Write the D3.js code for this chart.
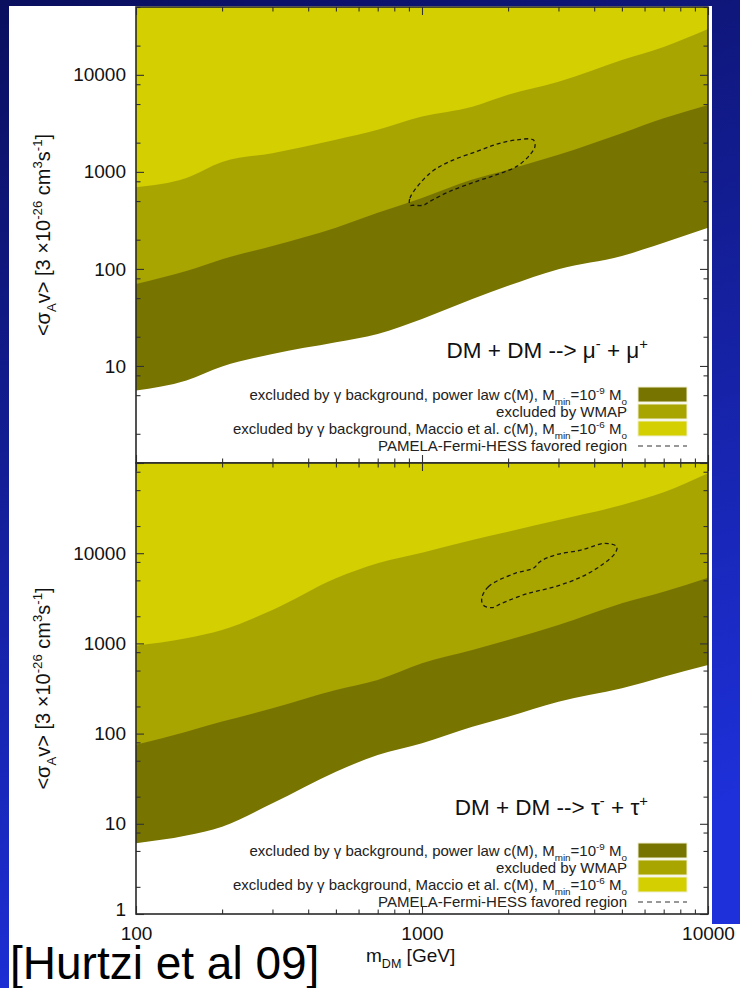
<!DOCTYPE html>
<html>
<head>
<meta charset="utf-8">
<script src="https://cdn.jsdelivr.net/npm/d3@7"></script>
<style>
  body { margin: 0; background: #fff; }
  svg { display: block; }
  text { font-family: "Liberation Sans", Arial, Helvetica, sans-serif; }
</style>
</head>
<body>
<svg id="chart" width="740" height="988"></svg>
<script>
// ---- data -----------------------------------------------------------
// dark matter mass grid [GeV]
const massGrid = [100, 150, 200, 300, 500, 700, 1000, 1500, 2000, 3000, 5000, 7000, 10000];

// DM + DM -> mu- + mu+ : exclusion limits on <sigma_A v> [3e-26 cm^3/s]
const muPowerLaw = [5.6, 7.1, 9.9, 13.3, 17.5, 21.4, 30.5, 48.9, 66.9, 99.3, 136, 186, 265];
const muWmap     = [70, 95, 126, 172, 265, 378, 538, 832, 1054, 1500, 2500, 3560, 4890];
const muMaccio   = [693, 864, 1261, 1560, 2138, 2709, 3710, 4697, 6237, 8476, 14250, 19370, 29630];
const muFavoredMass  = [908, 908, 1067, 1253, 1553, 1825, 2143, 2449, 2483, 2386, 2143, 1825, 1553, 1253, 1067, 1010, 932];
const muFavoredSigma = [453, 539, 972, 1282, 1624, 1928, 2138, 2138, 1828, 1501, 1138, 936, 799, 631, 498, 453, 453];

// DM + DM -> tau- + tau+
const tauPowerLaw = [6.1, 7.4, 9.3, 16.9, 37.8, 57.9, 78.1, 119, 154, 226, 318, 427, 576];
const tauWmap     = [75, 105, 136, 191, 304, 393, 601, 845, 1091, 1600, 2785, 3744, 5350];
const tauMaccio   = [943, 1140, 1409, 2345, 5268, 7730, 10140, 14000, 17300, 23330, 34220, 47330, 76900];
const tauFavoredMass  = [1618, 1706, 2115, 2449, 2585, 2917, 3616, 4363, 4797, 4730, 4250, 3616, 2917, 2355, 1901, 1754, 1637];
const tauFavoredSigma = [3162, 4253, 5985, 6800, 8050, 9550, 10860, 12880, 11800, 9970, 7400, 5480, 4253, 3590, 2786, 2488, 2667];

// tick values
const xMajorTicks = [100, 1000, 10000];
const xTickLabels = ["100", "1000", "10000"];
const yMajorTicks = [1, 10, 100, 1000, 10000, 100000];
const yMinorFactors = [2, 5, 8];

// ---- setup ----------------------------------------------------------
const W = 740, H = 988;
const colDark = "#777400", colMid = "#a8a400", colBright = "#d3cf00";
const svg = d3.select("#chart");
const defs = svg.append("defs");

const grad = defs.append("linearGradient").attr("id", "slideBg")
  .attr("x1", 0).attr("y1", 0).attr("x2", 0.25).attr("y2", 1);
grad.append("stop").attr("offset", "0%").attr("stop-color", "#0a0f5e");
grad.append("stop").attr("offset", "100%").attr("stop-color", "#1e30da");
svg.append("rect").attr("width", W).attr("height", H).attr("fill", "url(#slideBg)");
svg.append("rect").attr("x", 9).attr("y", 6).attr("width", 703).attr("height", H - 6).attr("fill", "#fff");
svg.append("rect").attr("x", 9).attr("y", 924).attr("width", W - 9).attr("height", H - 924).attr("fill", "#fff");

const x = d3.scaleLog().domain([100, 10000]).range([136, 708]);

// sub/superscript helper
function rich(textSel, parts, size) {
  let shift = 0;
  parts.forEach(p => {
    const fs = (p.sub || p.sup) ? size * 0.66 : size;
    const target = p.sub ? size * 0.32 : p.sup ? -size * 0.42 : 0;
    textSel.append("tspan").attr("dy", (target - shift).toFixed(2)).attr("font-size", fs).text(p.t);
    shift = target;
  });
}

function drawPanel(cfg) {
  const y = d3.scaleLog().domain([1, cfg.yMax]).range([cfg.bottom, cfg.top]);
  const g = svg.append("g");
  const clipId = "clip" + cfg.id;
  defs.append("clipPath").attr("id", clipId).append("rect")
    .attr("x", 136).attr("y", cfg.top).attr("width", 572).attr("height", cfg.bottom - cfg.top);

  const plot = g.append("g").attr("clip-path", `url(#${clipId})`);
  const bands = [
    { vals: cfg.powerLaw, fill: colDark },
    { vals: cfg.wmap, fill: colMid },
    { vals: cfg.maccio, fill: colBright }
  ];
  const area = d3.area()
    .x(d => x(d.m))
    .y0(cfg.top - 2)
    .y1(d => y(d.v))
    .curve(d3.curveMonotoneX);
  bands.forEach(b => {
    const pts = massGrid.map((m, i) => ({ m, v: b.vals[i] }));
    plot.append("path").datum(pts).attr("d", area).attr("fill", b.fill);
  });

  // favored region contour
  const fav = cfg.favMass.map((m, i) => ({ m, v: cfg.favSigma[i] }));
  plot.append("path").datum(fav)
    .attr("d", d3.line().x(d => x(d.m)).y(d => y(d.v)).curve(d3.curveCatmullRomClosed.alpha(0.5)))
    .attr("fill", "none").attr("stroke", "#1a1a10").attr("stroke-width", 1.3)
    .attr("stroke-dasharray", "4,3");

  // ticks on all four sides, pointing inward
  const xMinor = [];
  [100, 1000].forEach(d => { for (let k = 2; k <= 9; k++) xMinor.push(k * d); });
  const yMinor = [];
  [1, 10, 100, 1000, 10000].forEach(d => yMinorFactors.forEach(k => { if (k * d <= cfg.yMax) yMinor.push(k * d); }));
  const yMaj = yMajorTicks.filter(v => v <= cfg.yMax);

  const axG = g.append("g").attr("color", "#333");
  function add(axis, transform) {
    const s = axG.append("g").attr("transform", transform).call(axis);
    s.select(".domain").remove();
    s.selectAll("line").attr("stroke-width", 1.1);
    return s;
  }
  add(d3.axisBottom(x).tickValues(xMajorTicks).tickSize(-8).tickFormat(""), `translate(0,${cfg.bottom})`);
  add(d3.axisBottom(x).tickValues(xMinor).tickSize(-4.5).tickFormat(""), `translate(0,${cfg.bottom})`);
  add(d3.axisTop(x).tickValues(xMajorTicks).tickSize(-8).tickFormat(""), `translate(0,${cfg.top})`);
  add(d3.axisTop(x).tickValues(xMinor).tickSize(-4.5).tickFormat(""), `translate(0,${cfg.top})`);
  add(d3.axisLeft(y).tickValues(yMaj).tickSize(-8).tickFormat(""), `translate(136,0)`);
  add(d3.axisLeft(y).tickValues(yMinor).tickSize(-4.5).tickFormat(""), `translate(136,0)`);
  add(d3.axisRight(y).tickValues(yMaj).tickSize(-8).tickFormat(""), `translate(708,0)`);
  add(d3.axisRight(y).tickValues(yMinor).tickSize(-4.5).tickFormat(""), `translate(708,0)`);

  // y tick labels
  const yl = add(d3.axisLeft(y).tickValues(cfg.yLabels).tickSize(0).tickPadding(10).tickFormat(d3.format("d")), `translate(136,0)`);
  yl.selectAll("text").attr("font-size", 19).attr("fill", "#111").attr("font-family", null);
  if (cfg.xLabels) {
    yl.selectAll("text").filter(d => d === 1).attr("dy", "0.1em");
    const xl = add(d3.axisBottom(x).tickValues(xMajorTicks).tickSize(0).tickPadding(13)
      .tickFormat((d, i) => xTickLabels[i]), `translate(0,${cfg.bottom})`);
    xl.selectAll("text").attr("font-size", 19).attr("fill", "#111").attr("font-family", null);
  }

  // frame
  g.append("rect").attr("x", 136).attr("y", cfg.top).attr("width", 572).attr("height", cfg.bottom - cfg.top)
    .attr("fill", "none").attr("stroke", "#2a2a2a").attr("stroke-width", 1.6);

  // y-axis title
  const yt = g.append("text").attr("transform", `translate(50,${(cfg.top + cfg.bottom) / 2}) rotate(-90)`)
    .attr("text-anchor", "middle").attr("fill", "#111").attr("font-size", 20);
  rich(yt, [
    { t: "<σ" }, { t: "A", sub: true }, { t: "v> [3 ×10" }, { t: "-26", sup: true },
    { t: " cm" }, { t: "3", sup: true }, { t: "s" }, { t: "-1", sup: true }, { t: "]" }
  ], 20);

  // reaction label
  const rl = g.append("text").attr("x", 648).attr("y", cfg.reactionY)
    .attr("text-anchor", "end").attr("fill", "#111").attr("font-size", 22.5);
  rich(rl, [
    { t: "DM + DM --> " + cfg.lepton }, { t: "-", sup: true }, { t: " + " + cfg.lepton }, { t: "+", sup: true }
  ], 22.5);

  // legend
  const L = cfg.legendTop, step = 17, fs = 15, tx = 627;
  const rows = [
    { fill: colDark, parts: [{ t: "excluded by γ background, power law c(M), M" }, { t: "min", sub: true }, { t: "=10" }, { t: "-9", sup: true }, { t: " M" }, { t: "o", sub: true }] },
    { fill: colMid, parts: [{ t: "excluded by WMAP" }] },
    { fill: colBright, parts: [{ t: "excluded by γ background, Maccio et al. c(M), M" }, { t: "min", sub: true }, { t: "=10" }, { t: "-6", sup: true }, { t: " M" }, { t: "o", sub: true }] },
    { dash: true, parts: [{ t: "PAMELA-Fermi-HESS favored region" }] }
  ];
  rows.forEach((r, i) => {
    if (r.dash) {
      const ly = L + 59;
      const t = g.append("text").attr("x", tx).attr("y", ly + 5).attr("text-anchor", "end")
        .attr("fill", "#222").attr("font-size", fs);
      rich(t, r.parts, fs);
      g.append("line").attr("x1", 638).attr("x2", 687).attr("y1", ly).attr("y2", ly)
        .attr("stroke", "#333").attr("stroke-width", 1.2).attr("stroke-dasharray", "5,4");
    } else {
      const top = L + i * step;
      const t = g.append("text").attr("x", tx).attr("y", top + 13).attr("text-anchor", "end")
        .attr("fill", "#222").attr("font-size", fs);
      rich(t, r.parts, fs);
      g.append("rect").attr("x", 638).attr("y", top).attr("width", 49).attr("height", 15)
        .attr("fill", r.fill).attr("stroke", "#f0efd0").attr("stroke-width", 1);
    }
  });
}

drawPanel({
  id: "mu", top: 7, bottom: 463, yMax: 5e4,
  powerLaw: muPowerLaw, wmap: muWmap, maccio: muMaccio,
  favMass: muFavoredMass, favSigma: muFavoredSigma,
  yLabels: [10, 100, 1000, 10000], xLabels: false,
  lepton: "μ", reactionY: 358, legendTop: 387
});
drawPanel({
  id: "tau", top: 463, bottom: 914, yMax: 1e5,
  powerLaw: tauPowerLaw, wmap: tauWmap, maccio: tauMaccio,
  favMass: tauFavoredMass, favSigma: tauFavoredSigma,
  yLabels: [1, 10, 100, 1000, 10000], xLabels: true,
  lepton: "τ", reactionY: 815, legendTop: 843
});

// x-axis title
const xt = svg.append("text").attr("x", 366).attr("y", 962).attr("fill", "#111").attr("font-size", 19);
rich(xt, [{ t: "m" }, { t: "DM", sub: true }, { t: " [GeV]" }], 19);

// citation
svg.append("text").attr("x", 10).attr("y", 979).attr("fill", "#000").attr("font-size", 46)
  .text("[Hurtzi et al 09]");
</script>
</body>
</html>
